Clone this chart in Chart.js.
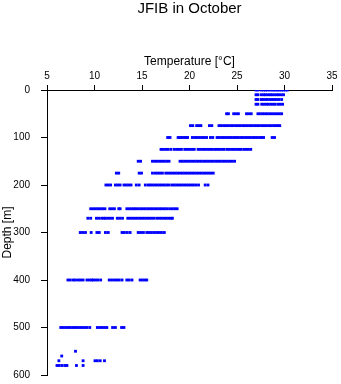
<!DOCTYPE html>
<html>
<head>
<meta charset="utf-8">
<script src="https://cdn.jsdelivr.net/npm/chart.js@4.4.1/dist/chart.umd.min.js"></script>
<style>
  body { margin: 0; background: #fff; }
  canvas { display: block; }
</style>
</head>
<body>
<canvas id="profileChart" width="341" height="384"></canvas>
<script>
// depth levels [m] and the temperatures read at each one [°C]
var depths = [0, 10, 20, 30, 50, 75, 100, 125, 150, 175, 200, 250, 270, 300, 400, 500, 550, 560, 570, 580];

var temps = [
    [27.0, 27.2, 27.55, 27.8, 28.0, 28.2, 28.45, 28.7, 28.9, 29.1, 29.3, 29.5, 29.7, 29.9, 30.1, 30.3],
    [27.0, 27.2, 27.55, 27.8, 28.0, 28.25, 28.5, 28.7, 28.95, 29.2, 29.4, 29.65, 29.9],
    [27.0, 27.2, 27.55, 27.75, 28.0, 28.2, 28.45, 28.7, 28.9, 29.15, 29.4, 29.7],
    [27.0, 27.2, 27.6, 27.85, 28.1, 28.3, 28.55, 28.8, 29.0, 29.3, 29.55, 29.8],
    [23.9, 24.1, 24.65, 24.9, 25.15, 26.0, 26.25, 26.5, 27.2, 27.45, 27.7, 27.95, 28.2, 28.45, 28.7, 28.95, 29.2, 29.45, 29.7],
    [20.1, 20.35, 20.75, 21.0, 21.2, 22.1, 22.35, 23.1, 23.35, 23.6, 23.85, 24.1, 24.35, 24.6, 24.85, 25.1, 25.35, 25.6, 25.85, 26.1, 26.35, 26.6, 26.85, 27.1, 27.35, 27.6, 27.85, 28.1, 28.35, 28.6, 28.85, 29.1, 29.3, 29.5],
    [17.7, 17.95, 18.8, 19.0, 19.2, 19.45, 19.6, 19.8, 20.3, 20.55, 20.8, 21.05, 21.3, 21.55, 21.8, 22.2, 22.45, 22.9, 23.15, 23.4, 23.65, 23.9, 24.15, 24.4, 24.65, 24.9, 25.15, 25.4, 25.65, 25.9, 26.15, 26.4, 26.65, 26.9, 27.15, 27.4, 27.6, 27.8, 28.7, 28.95],
    [17.0, 17.25, 17.5, 17.75, 18.05, 18.4, 18.65, 18.9, 19.15, 19.5, 19.75, 20.0, 20.25, 20.5, 20.9, 21.15, 21.4, 21.65, 21.9, 22.15, 22.4, 22.65, 22.9, 23.15, 23.4, 23.65, 23.95, 24.2, 24.45, 24.7, 24.95, 25.2, 25.4, 25.7, 25.95, 26.2, 26.45],
    [14.6, 14.85, 16.1, 16.35, 16.6, 16.85, 17.1, 17.35, 17.6, 17.85, 19.0, 19.25, 19.5, 19.75, 20.0, 20.25, 20.5, 20.75, 21.0, 21.25, 21.5, 21.75, 22.0, 22.25, 22.5, 22.75, 23.0, 23.25, 23.5, 23.75, 24.0, 24.25, 24.5, 24.75],
    [12.3, 12.55, 14.7, 14.95, 16.1, 16.4, 16.65, 16.9, 17.15, 17.5, 17.75, 18.0, 18.25, 18.5, 18.75, 19.0, 19.25, 19.5, 19.75, 20.0, 20.25, 20.5, 20.75, 21.0, 21.25, 21.5, 21.75, 22.0, 22.25, 22.5],
    [11.2, 11.45, 11.7, 12.2, 12.45, 12.7, 13.1, 13.35, 13.6, 13.85, 14.4, 14.7, 15.35, 15.65, 15.85, 16.1, 16.35, 16.6, 16.85, 17.1, 17.35, 17.6, 17.85, 18.15, 18.4, 18.65, 18.9, 19.15, 19.4, 19.65, 19.9, 20.15, 20.4, 20.65, 20.95, 21.65, 21.95],
    [9.6, 9.85, 10.1, 10.35, 10.6, 10.85, 11.1, 11.6, 11.85, 12.1, 12.55, 12.7, 13.4, 13.65, 13.9, 14.15, 14.35, 14.6, 14.85, 15.1, 15.35, 15.6, 15.85, 16.1, 16.35, 16.6, 16.85, 17.1, 17.35, 17.6, 17.9, 18.2, 18.45, 18.7],
    [9.3, 9.6, 10.2, 10.45, 10.75, 10.95, 11.15, 11.4, 11.65, 11.9, 12.4, 12.65, 12.95, 13.5, 13.75, 14.0, 14.25, 14.5, 14.75, 15.0, 15.25, 15.5, 15.75, 16.0, 16.25, 16.55, 16.8, 17.05, 17.3, 17.55, 17.8, 18.05, 18.2],
    [8.5, 8.75, 9.05, 9.65, 10.25, 10.5, 11.15, 11.45, 12.9, 13.15, 13.45, 13.75, 14.6, 14.85, 15.15, 15.5, 15.75, 16.0, 16.3, 16.55, 16.8, 17.05, 17.35],
    [7.2, 7.45, 7.75, 8.0, 8.3, 8.55, 8.8, 9.2, 9.45, 9.7, 9.85, 10.1, 10.35, 10.65, 11.55, 11.8, 12.1, 12.35, 12.6, 12.9, 13.4, 13.65, 13.95, 14.8, 15.05, 15.3, 15.5],
    [6.45, 6.7, 6.95, 7.2, 7.45, 7.7, 7.95, 8.2, 8.45, 8.7, 8.95, 9.2, 9.5, 10.3, 10.55, 10.8, 11.05, 11.3, 11.9, 12.2, 12.85, 13.1],
    [8.0],
    [6.55],
    [6.25, 8.8, 10.05, 10.3, 10.6, 11.05],
    [6.05, 6.3, 6.6, 6.9, 7.1, 8.1, 8.8]
];

var tempTicks = [5, 10, 15, 20, 25, 30, 35];
var depthTicks = [0, 100, 200, 300, 400, 500, 600];

var points = [];
depths.forEach(function(d, i) {
    temps[i].forEach(function(t) {
        points.push({ x: t, y: d });
    });
});

var fontFamily = "'Liberation Sans', Arial, Helvetica, sans-serif";

var ctx = document.getElementById("profileChart");

new Chart(ctx, {
    type: "scatter",
    data: {
        datasets: [
            {
                label: "Temperature",
                data: points,
                pointStyle: "rect",
                pointRadius: 2,
                pointHoverRadius: 2,
                pointBorderWidth: 0,
                backgroundColor: "#0000ff",
                borderColor: "#0000ff",
            },
        ],
    },
    options: {
        responsive: false,
        animation: false,
        layout: {
            padding: { top: 0, left: 0, right: 9, bottom: 9 },
        },
        plugins: {
            legend: { display: false },
            tooltip: { enabled: false },
            title: {
                display: true,
                text: "JFIB in October",
                fullSize: false,
                color: "#000",
                font: { family: fontFamily, size: 15, weight: "normal" },
                padding: { top: 0, bottom: 0 },
            },
        },
        scales: {
            x: {
                type: "linear",
                position: "top",
                min: tempTicks[0],
                max: tempTicks[tempTicks.length - 1],
                afterBuildTicks: function(scale) {
                    scale.ticks = tempTicks.map(function(v) { return { value: v }; });
                },
                afterFit: function(scale) {
                    scale.height = 72;
                    scale.paddingLeft = 0;
                    scale.paddingRight = 0;
                },
                ticks: {
                    color: "#000",
                    font: { family: fontFamily, size: 10 },
                    padding: 3,
                    maxRotation: 0,
                },
                grid: {
                    drawOnChartArea: false,
                    drawTicks: true,
                    tickLength: 5,
                    color: "#000",
                },
                border: { display: true, color: "#000", width: 1 },
                title: {
                    display: true,
                    text: "Temperature [°C]",
                    color: "#000",
                    font: { family: fontFamily, size: 12 },
                    padding: { top: 36, bottom: 0 },
                },
            },
            y: {
                type: "linear",
                reverse: true,
                min: depthTicks[0],
                max: depthTicks[depthTicks.length - 1],
                afterBuildTicks: function(scale) {
                    scale.ticks = depthTicks.map(function(v) { return { value: v }; });
                },
                afterFit: function(scale) {
                    scale.width = 47;
                    scale.paddingTop = 0;
                    scale.paddingBottom = 0;
                },
                ticks: {
                    color: "#000",
                    font: { family: fontFamily, size: 10 },
                    padding: 11,
                },
                grid: {
                    drawOnChartArea: false,
                    drawTicks: true,
                    tickLength: 6,
                    color: "#000",
                },
                border: { display: true, color: "#000", width: 1 },
                title: {
                    display: true,
                    text: "Depth [m]",
                    color: "#000",
                    font: { family: fontFamily, size: 12 },
                    padding: { top: 0, bottom: 0 },
                },
            },
        },
    },
});
</script>
</body>
</html>
